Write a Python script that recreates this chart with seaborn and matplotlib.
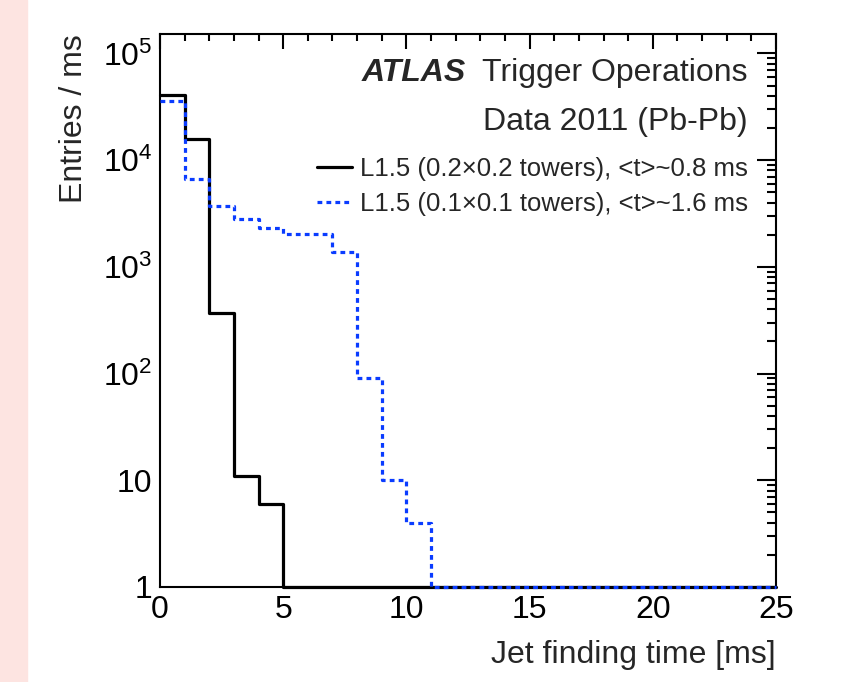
import numpy as np
import pandas as pd
import matplotlib
matplotlib.use('Agg')
import matplotlib.pyplot as plt
from matplotlib.patches import Rectangle
from matplotlib.ticker import MultipleLocator, LogLocator, NullFormatter
import seaborn as sns

# histogram bins (1 ms wide) and entries per bin
bin_edges = [0, 1, 2, 3, 4, 5, 6, 7, 8, 9, 10, 11, 12, 13, 14, 15, 16, 17, 18, 19, 20, 21, 22, 23, 24, 25]
coarse_counts = [41000, 15800, 370, 11, 6, 0, 0, 0, 0, 0, 0, 0, 0, 0, 0, 0, 0, 0, 0, 0, 0, 0, 0, 0, 0]
fine_counts = [36000, 6600, 3700, 2800, 2330, 2050, 2050, 1390, 91, 10, 4, 0, 0, 0, 0, 0, 0, 0, 0, 0, 0, 0, 0, 0, 0]
series_names = ['coarse', 'fine']
legend_labels = ['L1.5 (0.2\u00d70.2 towers), <t>~0.8 ms',
                 'L1.5 (0.1\u00d70.1 towers), <t>~1.6 ms']
ytick_vals = [1, 10, 100, 1000, 10000, 100000]
ytick_labels = ['1', '10', r'$10^{2}$', r'$10^{3}$', r'$10^{4}$', r'$10^{5}$']

sns.set_style('white')
plt.rcParams['font.family'] = ['Liberation Sans', 'DejaVu Sans']
plt.rcParams['mathtext.fontset'] = 'custom'
plt.rcParams['mathtext.rm'] = 'Liberation Sans'
plt.rcParams['mathtext.it'] = 'Liberation Sans:italic'
plt.rcParams['mathtext.bf'] = 'Liberation Sans:bold'

# step outline: repeat last bin at the right edge, empty bins sit on the axis floor
rows = []
for name, counts in zip(series_names, [coarse_counts, fine_counts]):
    vals = np.maximum(np.array(counts, dtype=float), 1.0)
    vals = np.append(vals, vals[-1])
    for x, y in zip(bin_edges, vals):
        rows.append({'time': x, 'entries': y, 'series': name})
df = pd.DataFrame(rows)

fig = plt.figure(figsize=(8.57, 6.82), dpi=100)
fig.patches.append(Rectangle((0, 0), 27 / 857, 1, transform=fig.transFigure,
                             color='#fde4e1', zorder=-1))
ax = fig.add_axes([0.1867, 0.1393, 0.7188, 0.8108])

sns.lineplot(data=df, x='time', y='entries', hue='series', style='series',
             palette={'coarse': '#000000', 'fine': '#0a3cff'},
             dashes={'coarse': '', 'fine': (1.5, 1.3)},
             estimator=None, sort=False, drawstyle='steps-post',
             linewidth=2.3, legend=False, clip_on=False, zorder=3, ax=ax)

ax.set_yscale('log')
ax.set_xlim(0, 25)
ax.set_ylim(1, 1.52e5)

ax.xaxis.set_major_locator(MultipleLocator(5))
ax.xaxis.set_minor_locator(MultipleLocator(1))
ax.set_yticks(ytick_vals)
ax.set_yticklabels(ytick_labels)
ax.yaxis.set_minor_locator(LogLocator(base=10, subs=range(2, 10)))
ax.yaxis.set_minor_formatter(NullFormatter())

ax.tick_params(which='both', direction='in', top=True, right=True, width=1.5,
               labelsize=23, colors='black')
ax.tick_params(axis='x', which='major', length=10.8, pad=6)
ax.tick_params(axis='x', which='minor', length=5)
ax.tick_params(axis='y', which='major', length=13.7, pad=5.5)
ax.tick_params(axis='y', which='minor', length=6.5)
for sp in ax.spines.values():
    sp.set_linewidth(1.5)
    sp.set_color('black')

ax.set_xlabel('Jet finding time [ms]', fontsize=23, loc='right')
ax.xaxis.set_label_coords(1.0, -0.096)
ax.set_ylabel('Entries / ms', fontsize=23, loc='top')
ax.yaxis.set_label_coords(-0.115, 1.0)

ax.text(0.328, 0.9295, 'ATLAS', transform=ax.transAxes, fontsize=23,
        fontweight='bold', fontstyle='italic', ha='left', va='center')
ax.text(0.9545, 0.9295, 'Trigger Operations', transform=ax.transAxes,
        fontsize=23, ha='right', va='center')
ax.text(0.9545, 0.841, 'Data 2011 (Pb-Pb)', transform=ax.transAxes,
        fontsize=23, ha='right', va='center')

ax.legend(handles=ax.lines[:2], labels=legend_labels, loc='center left',
          bbox_to_anchor=(317 / 857, 1 - 186.5 / 682), bbox_transform=fig.transFigure,
          frameon=False, fontsize=18.5, handlelength=1.36, handletextpad=0.31,
          borderpad=0, borderaxespad=0, labelspacing=0.4)

fig.savefig('out.png', dpi=100)
